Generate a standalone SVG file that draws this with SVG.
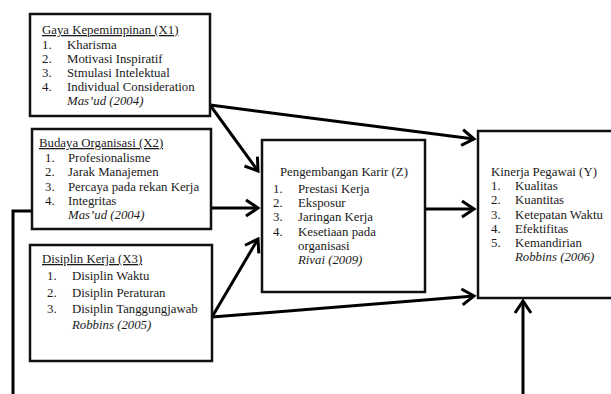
<svg xmlns="http://www.w3.org/2000/svg" width="611" height="394" viewBox="0 0 611 394" font-family="'Liberation Serif', 'DejaVu Serif', serif">
<style>
.box{fill:#fff;stroke:#111;stroke-width:2.5}
text{font-family:'Liberation Serif', serif;font-size:12.8px;fill:#1a1a1a}
.t{text-decoration:underline}
.i{font-style:italic}
.c{fill:none;stroke:#000;stroke-width:3}
</style>
<defs>
<marker id="ah" markerUnits="userSpaceOnUse" markerWidth="20" markerHeight="20" refX="14" refY="8" orient="auto" overflow="visible">
<path d="M2,0 L14,8 L2,16" fill="none" stroke="#000" stroke-width="3"/>
</marker>
</defs>
<g id="connectors">
<line class="c" x1="210" y1="105" x2="474" y2="139" marker-end="url(#ah)"/>
<line class="c" x1="210" y1="105" x2="258" y2="171" marker-end="url(#ah)"/>
<line class="c" x1="211" y1="208" x2="258" y2="208" marker-end="url(#ah)"/>
<line class="c" x1="212" y1="317" x2="258" y2="239" marker-end="url(#ah)"/>
<line class="c" x1="212" y1="317" x2="474" y2="296" marker-end="url(#ah)"/>
<line class="c" x1="425" y1="209" x2="474" y2="209" marker-end="url(#ah)"/>
<line class="c" x1="523" y1="394" x2="523" y2="301" marker-end="url(#ah)"/>
<polyline class="c" points="32,211 13,211 13,394"/>
</g>
<g id="X1">
<rect class="box" x="30" y="14" width="180" height="102"/>
<text class="t" x="42" y="34">Gaya Kepemimpinan (X1)</text>
<text x="42" y="49">1.</text><text x="67" y="49">Kharisma</text>
<text x="42" y="63">2.</text><text x="67" y="63">Motivasi Inspiratif</text>
<text x="42" y="77">3.</text><text x="67" y="77">Stmulasi Intelektual</text>
<text x="42" y="91">4.</text><text x="67" y="91">Individual Consideration</text>
<text class="i" x="67" y="105">Mas’ud (2004)</text>
</g>
<g id="X2">
<rect class="box" x="32" y="129" width="179" height="100"/>
<text class="t" x="39" y="147">Budaya Organisasi (X2)</text>
<text x="45" y="162">1.</text><text x="68" y="162">Profesionalisme</text>
<text x="45" y="176">2.</text><text x="68" y="176">Jarak Manajemen</text>
<text x="45" y="191">3.</text><text x="68" y="191">Percaya pada rekan Kerja</text>
<text x="45" y="205">4.</text><text x="68" y="205">Integritas</text>
<text class="i" x="68" y="219">Mas’ud (2004)</text>
</g>
<g id="X3">
<rect class="box" x="30" y="245" width="182" height="116"/>
<text class="t" x="42" y="263">Disiplin Kerja (X3)</text>
<text x="47" y="280">1.</text><text x="72" y="280">Disiplin Waktu</text>
<text x="47" y="297">2.</text><text x="72" y="297">Disiplin Peraturan</text>
<text x="47" y="313">3.</text><text x="72" y="313">Disiplin Tanggungjawab</text>
<text class="i" x="72" y="329">Robbins (2005)</text>
</g>
<g id="Z">
<rect class="box" x="262" y="140" width="163" height="152"/>
<text x="280" y="176">Pengembangan Karir (Z)</text>
<text x="273" y="193">1.</text><text x="298" y="193">Prestasi Kerja</text>
<text x="273" y="207">2.</text><text x="298" y="207">Eksposur</text>
<text x="273" y="221">3.</text><text x="298" y="221">Jaringan Kerja</text>
<text x="273" y="236">4.</text><text x="298" y="236">Kesetiaan pada</text>
<text x="298" y="250">organisasi</text>
<text class="i" x="298" y="264">Rivai (2009)</text>
</g>
<g id="Y">
<rect class="box" x="478" y="131" width="140" height="167"/>
<text x="491" y="176">Kinerja Pegawai (Y)</text>
<text x="491" y="190">1.</text><text x="515" y="190">Kualitas</text>
<text x="491" y="204">2.</text><text x="515" y="204">Kuantitas</text>
<text x="491" y="219">3.</text><text x="515" y="219">Ketepatan Waktu</text>
<text x="491" y="233">4.</text><text x="515" y="233">Efektifitas</text>
<text x="491" y="247">5.</text><text x="515" y="247">Kemandirian</text>
<text class="i" x="515" y="261">Robbins (2006)</text>
</g>
</svg>
